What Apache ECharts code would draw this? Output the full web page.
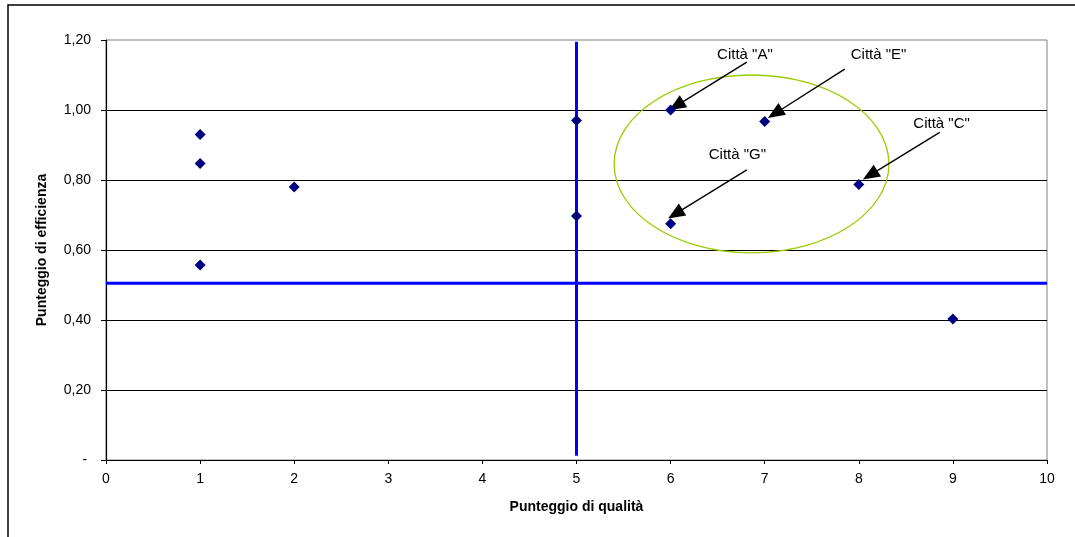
<!DOCTYPE html>
<html>
<head>
<meta charset="utf-8">
<script src="https://cdn.jsdelivr.net/npm/echarts@6/dist/echarts.min.js"></script>
<style>
  html, body { margin: 0; padding: 0; background: #fff; }
  #chart { width: 1075px; height: 537px; }
</style>
</head>
<body>
<div id="chart"></div>
<script>
// Quality score (x) and efficiency score (y) of each city
const qualita   = [1, 1, 1, 2, 5, 5, 6, 6, 7, 8, 9];
const efficienza = [0.930, 0.847, 0.557, 0.780, 0.970, 0.697, 1.000, 0.675, 0.967, 0.787, 0.403];

// Threshold lines splitting the plane into quadrants
const sogliaQualita = 5;
const sogliaQualitaRange = [0.012, 1.195];
const sogliaEfficienza = 0.505;

// Highlighted group: ellipse centre and half-axes in axis units
const gruppo = [6.86, 0.846, 1.46, 0.254];

// Callouts: name, label position, arrow start, arrow tip (axis units)
const richiamiNomi = ['Città "A"', 'Città "E"', 'Città "G"', 'Città "C"'];
const richiamiTesto = [[6.79, 1.157], [8.21, 1.157], [6.71, 0.871], [8.88, 0.960]];
const richiamiDa    = [[6.81, 1.137], [7.85, 1.117], [6.81, 0.829], [8.86, 0.936]];
const richiamiA     = [[6.06, 1.012], [7.11, 0.990], [6.05, 0.703], [8.12, 0.814]];

const fmtY = v => v === 0 ? '- ' : v.toFixed(2).replace('.', ',');

const chart = echarts.init(document.getElementById('chart'), null, { renderer: 'canvas' });

const font = 'Liberation Sans, Arial, sans-serif';

chart.setOption({
  animation: false,
  backgroundColor: '#ffffff',
  textStyle: { fontFamily: font },
  graphic: [{
    type: 'rect',
    shape: { x: 8, y: 5, width: 1200, height: 700 },
    style: { fill: 'none', stroke: '#000', lineWidth: 1.5 },
    z: -10
  }],
  grid: {
    left: 106, right: 28, top: 40, bottom: 77,
    show: true, borderColor: '#808080', borderWidth: 1, backgroundColor: '#fff'
  },
  xAxis: {
    type: 'value', min: 0, max: 10, interval: 1,
    name: 'Punteggio di qualità', nameLocation: 'middle', nameGap: 40,
    nameTextStyle: { fontFamily: font, fontSize: 14, fontWeight: 'bold', color: '#000' },
    axisLine: { show: true, onZero: false, lineStyle: { color: '#000', width: 1.2 } },
    axisTick: { show: true, length: 4, lineStyle: { color: '#000' } },
    axisLabel: { fontFamily: font, fontSize: 14, color: '#000', margin: 12 },
    splitLine: { show: false }
  },
  yAxis: {
    type: 'value', min: 0, max: 1.2, interval: 0.2,
    name: 'Punteggio di efficienza', nameLocation: 'middle', nameGap: 57,
    nameTextStyle: { fontFamily: font, fontSize: 14, fontWeight: 'bold', color: '#000' },
    axisLine: { show: true, lineStyle: { color: '#000', width: 1.2 } },
    axisTick: { show: true, length: 5, lineStyle: { color: '#000' } },
    axisLabel: { fontFamily: font, fontSize: 14, color: '#000', margin: 15, formatter: fmtY },
    splitLine: { show: true, showMinLine: false, showMaxLine: false, lineStyle: { color: '#000', width: 1 } }
  },
  series: [
    {
      // highlighted group of cities
      type: 'custom',
      silent: true,
      z: 1,
      data: [gruppo],
      renderItem: function (params, api) {
        const c = api.coord([api.value(0), api.value(1)]);
        const s = api.size([api.value(2), api.value(3)]);
        return {
          type: 'ellipse',
          shape: { cx: c[0], cy: c[1], rx: s[0], ry: s[1] },
          style: { fill: 'none', stroke: '#99cc00', lineWidth: 1.3 }
        };
      }
    },
    {
      // vertical threshold on quality
      type: 'line', silent: true, z: 2, symbol: 'none',
      lineStyle: { color: '#0000ff', width: 3 },
      data: sogliaQualitaRange.map(v => [sogliaQualita, v])
    },
    {
      // horizontal threshold on efficiency
      type: 'line', silent: true, z: 2, symbol: 'none',
      lineStyle: { color: '#0000ff', width: 3 },
      data: [[0, sogliaEfficienza], [10, sogliaEfficienza]]
    },
    {
      type: 'scatter',
      z: 5,
      symbol: 'diamond',
      symbolSize: 11,
      itemStyle: { color: '#000080', opacity: 1 },
      data: qualita.map((x, i) => [x, efficienza[i]]),
      markLine: {
        silent: true,
        symbol: ['none', 'triangle'],
        symbolSize: [14, 17],
        label: { show: false },
        lineStyle: { color: '#000', width: 1.4, type: 'solid', opacity: 1 },
        data: richiamiDa.map((d, i) => [{ coord: d }, { coord: richiamiA[i] }])
      }
    },
    {
      // callout captions
      type: 'scatter',
      silent: true,
      z: 6,
      symbolSize: 0,
      itemStyle: { opacity: 1 },
      data: richiamiTesto.map((p, i) => ({ value: p, name: richiamiNomi[i] })),
      label: {
        show: true, position: 'inside', formatter: '{b}',
        fontFamily: font, fontSize: 15, color: '#000'
      }
    }
  ]
});
</script>
</body>
</html>
